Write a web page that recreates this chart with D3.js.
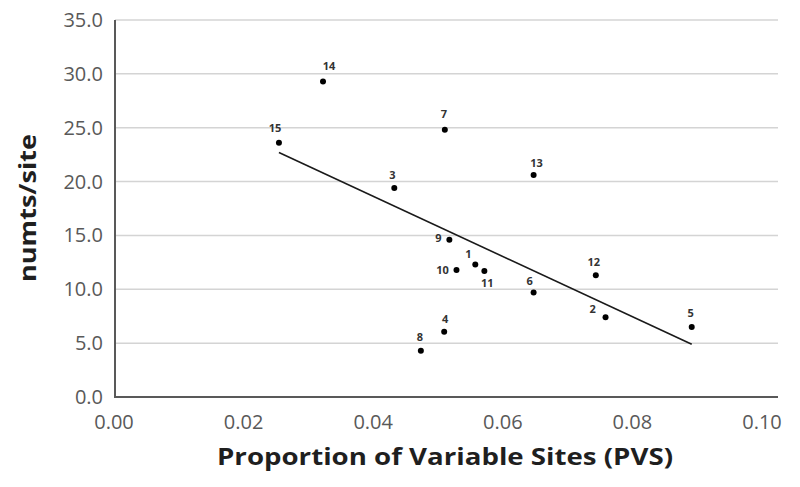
<!DOCTYPE html>
<html>
<head>
<meta charset="utf-8">
<script src="https://cdn.jsdelivr.net/npm/d3@7"></script>
<style>
  body { margin: 0; background: #fff; }
  text { font-family: "Open Sans", sans-serif; }
</style>
</head>
<body>
<div id="chart"></div>
<script>
// sample ids, proportion of variable sites, numts per site
const ids  = [1, 2, 3, 4, 5, 6, 7, 8, 9, 10, 11, 12, 13, 14, 15];
const pvs  = [0.0556, 0.0757, 0.0431, 0.0508, 0.0890, 0.0646, 0.0509, 0.0472, 0.0516, 0.0527, 0.0570, 0.0742, 0.0646, 0.0321, 0.0253];
const numts = [12.3, 7.4, 19.4, 6.05, 6.5, 9.7, 24.8, 4.3, 14.6, 11.8, 11.7, 11.3, 20.6, 29.3, 23.6];
const xTicks = [0, 0.02, 0.04, 0.06, 0.08, 0.10];
const yTicks = [0, 5, 10, 15, 20, 25, 30, 35];

// where each id label sits relative to its dot (px)
const labelShift = {
  1: [-7, -11], 2: [-13, -8], 3: [-2, -13], 4: [1, -13], 5: [-1, -14],
  6: [-4, -12], 7: [-1, -16], 8: [-1, -14], 9: [-11, -2], 10: [-14, 0],
  11: [3, 12], 12: [-2, -13], 13: [3, -12], 14: [6, -15], 15: [-4, -15]
};

const width = 800, height = 487;
const mLeft = 115, mRight = 778, mTop = 20, mBottom = 397;

const svg = d3.select("#chart").append("svg")
  .attr("width", width)
  .attr("height", height);

const x = d3.scaleLinear().domain([0, 0.10]).range([mLeft, 763]);
const y = d3.scaleLinear().domain([0, 35]).range([mBottom, mTop]);

// gridlines
svg.append("g").selectAll("line")
  .data(yTicks.filter(d => d > 0))
  .enter().append("line")
  .attr("x1", mLeft).attr("x2", mRight)
  .attr("y1", d => y(d)).attr("y2", d => y(d))
  .attr("stroke", "#d4d4d4")
  .attr("stroke-width", 1.5);

// axis lines
svg.append("line")
  .attr("x1", mLeft).attr("x2", mLeft)
  .attr("y1", mTop).attr("y2", mBottom)
  .attr("stroke", "#595959").attr("stroke-width", 2);
svg.append("line")
  .attr("x1", mLeft - 1).attr("x2", mRight)
  .attr("y1", mBottom).attr("y2", mBottom)
  .attr("stroke", "#595959").attr("stroke-width", 2);

// tick labels
svg.append("g").selectAll("text")
  .data(yTicks)
  .enter().append("text")
  .attr("x", 103)
  .attr("y", d => y(d) + 7)
  .attr("text-anchor", "end")
  .attr("font-size", "20px")
  .attr("fill", "#595959")
  .text(d => d3.format(".1f")(d));

svg.append("g").selectAll("text")
  .data(xTicks)
  .enter().append("text")
  .attr("x", d => x(d) - 1)
  .attr("y", 429)
  .attr("text-anchor", "middle")
  .attr("font-size", "20px")
  .attr("fill", "#595959")
  .text(d => d3.format(".2f")(d));

// axis titles
svg.append("text")
  .attr("x", 217)
  .attr("y", 465)
  .attr("font-size", "23px")
  .attr("font-weight", "bold")
  .attr("fill", "#1f1f1f")
  .attr("textLength", 456)
  .attr("lengthAdjust", "spacingAndGlyphs")
  .text("Proportion of Variable Sites (PVS)");

svg.append("text")
  .attr("transform", `translate(36, 282) rotate(-90)`)
  .attr("font-size", "24px")
  .attr("font-weight", "bold")
  .attr("fill", "#1f1f1f")
  .attr("textLength", 148)
  .attr("lengthAdjust", "spacingAndGlyphs")
  .text("numts/site");

// least squares trend line
const points = ids.map((id, i) => ({ id: id, x: pvs[i], y: numts[i] }));
const mx = d3.mean(points, d => d.x), my = d3.mean(points, d => d.y);
const slope = d3.sum(points, d => (d.x - mx) * (d.y - my)) / d3.sum(points, d => (d.x - mx) ** 2);
const icpt = my - slope * mx;
const xr = d3.extent(points, d => d.x);

svg.append("line")
  .attr("x1", x(xr[0])).attr("y1", y(icpt + slope * xr[0]))
  .attr("x2", x(xr[1])).attr("y2", y(icpt + slope * xr[1]))
  .attr("stroke", "#1a1a1a")
  .attr("stroke-width", 1.6);

// dots + labels
const pt = svg.append("g").selectAll("g")
  .data(points)
  .enter().append("g")
  .attr("transform", d => `translate(${x(d.x)},${y(d.y)})`);

pt.append("circle")
  .attr("r", 3)
  .attr("fill", "#000");

pt.append("text")
  .attr("x", d => labelShift[d.id][0])
  .attr("y", d => labelShift[d.id][1] + 4)
  .attr("text-anchor", "middle")
  .attr("font-family", "Liberation Sans, Arial, sans-serif")
  .attr("font-size", "11px")
  .attr("font-weight", "bold")
  .attr("fill", "#333")
  .text(d => d.id);
</script>
</body>
</html>
